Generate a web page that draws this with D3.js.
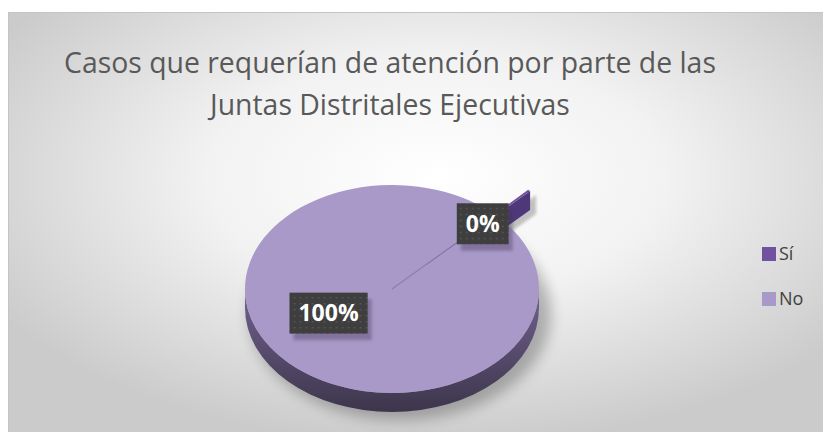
<!DOCTYPE html>
<html>
  <head>
    <meta charset="utf-8" />
    <script src="https://cdn.jsdelivr.net/npm/d3@7"></script>
    <style>
      body { margin: 0; background: #fff; }
      text { font-family: "Open Sans", "DejaVu Sans", sans-serif; }
    </style>
  </head>
  <body>
    <div id="chart"></div>
    <script type="text/javascript">
var width = 823, height = 432;

// data
var categories = ["Sí", "No"];
var values = [0.3, 99.7];
var titleLines = ["Casos que requerían de atención por parte de las", "Juntas Distritales Ejecutivas"];

var color = d3.scaleOrdinal().domain(categories).range(["#7152a1", "#a899c8"]);
var pct = d3.format(".0%");
var total = d3.sum(values);

var svg = d3.select("#chart").append("svg")
  .attr("width", width)
  .attr("height", height);

var defs = svg.append("defs");

var bg = defs.append("radialGradient").attr("id", "bg")
  .attr("cx", "52%").attr("cy", "38%").attr("r", "62%");
bg.append("stop").attr("offset", "0%").attr("stop-color", "#ffffff");
bg.append("stop").attr("offset", "45%").attr("stop-color", "#f2f2f2");
bg.append("stop").attr("offset", "100%").attr("stop-color", "#cbcbcb");

var side = defs.append("linearGradient").attr("id", "side")
  .attr("x1", 0).attr("y1", 0).attr("x2", 0).attr("y2", 1);
side.append("stop").attr("offset", "0%").attr("stop-color", "#716390");
side.append("stop").attr("offset", "100%").attr("stop-color", "#3d354b");

var blur = defs.append("filter").attr("id", "blur")
  .attr("x", "-30%").attr("y", "-30%").attr("width", "160%").attr("height", "160%");
blur.append("feGaussianBlur").attr("stdDeviation", 7);

var blur2 = defs.append("filter").attr("id", "blur2")
  .attr("x", "-30%").attr("y", "-30%").attr("width", "160%").attr("height", "160%");
blur2.append("feGaussianBlur").attr("stdDeviation", 1.5);

var dots = defs.append("pattern").attr("id", "dots")
  .attr("width", 6).attr("height", 6).attr("patternUnits", "userSpaceOnUse");
dots.append("rect").attr("width", 6).attr("height", 6).attr("fill", "#3e3e3e");
dots.append("rect").attr("x", 1).attr("y", 2).attr("width", 2).attr("height", 1.3).attr("fill", "#575757");

// chart area
svg.append("rect")
  .attr("x", 8.5).attr("y", 12.5)
  .attr("width", width).attr("height", height)
  .attr("fill", "url(#bg)")
  .attr("stroke", "#c4c4c4");

// title
var title = svg.append("g");
title.selectAll("text")
  .data(titleLines)
  .enter().append("text")
    .attr("x", 390)
    .attr("y", function(d, i) { return 73 + i * 42; })
    .attr("text-anchor", "middle")
    .attr("fill", "#595959")
    .style("font-size", "28px")
    .text(function(d) { return d; });
var w0 = title.select("text").node().getComputedTextLength();
title.selectAll("text").style("font-size", (28 * 652 / w0) + "px");

// pie geometry
var cx = 392, cy = 289, rx = 147, ry = 104, depth = 19, explode = 0.33;
var x = d3.scaleLinear().domain([-1, 1]).range([cx - rx, cx + rx]);
var y = d3.scaleLinear().domain([-1, 1]).range([cy + ry, cy - ry]);
var startDeg = 44;
var pie = d3.pie().sort(null)
  .startAngle(startDeg * Math.PI / 180)
  .endAngle(startDeg * Math.PI / 180 + 2 * Math.PI);
var arcs = pie(values);

function pt(a, f, d) {
  return [x(f * Math.sin(a)) + d.ox, y(f * Math.cos(a)) + d.oy];
}
arcs.forEach(function(d) {
  var small = (d.endAngle - d.startAngle) < Math.PI;
  var mid = (d.startAngle + d.endAngle) / 2;
  d.mid = mid;
  d.ox = small ? x(explode * Math.sin(mid)) - cx : 0;
  d.oy = small ? y(explode * Math.cos(mid)) - cy : 0;
});

function topPath(d) {
  var c = pt(0, 0, d), p0 = pt(d.startAngle, 1, d), p1 = pt(d.endAngle, 1, d);
  var large = d.endAngle - d.startAngle > Math.PI ? 1 : 0;
  return "M" + c + "L" + p0 + "A" + rx + "," + ry + " 0 " + large + " 1 " + p1 + "Z";
}
function sidePath(d) {
  var out = "";
  [-2, 0, 2].forEach(function(k) {
    var s = Math.max(d.startAngle, Math.PI / 2 + k * Math.PI);
    var e = Math.min(d.endAngle, 3 * Math.PI / 2 + k * Math.PI);
    if (s < e) {
      var t0 = pt(s, 1, d), t1 = pt(e, 1, d);
      out += "M" + t0 + "A" + rx + "," + ry + " 0 0 1 " + t1 +
        "L" + [t1[0], t1[1] + depth] + "A" + rx + "," + ry + " 0 0 0 " + [t0[0], t0[1] + depth] + "Z";
    }
  });
  return out;
}
function endWall(d) {
  var c = pt(0, 0, d), p = pt(d.endAngle, 1, d);
  return "M" + c + "L" + p + "L" + [p[0], p[1] + depth] + "L" + [c[0], c[1] + depth] + "Z";
}

var pieG = svg.append("g");

// soft shadow
pieG.append("ellipse")
  .attr("cx", cx + 8).attr("cy", cy + depth + 6)
  .attr("rx", rx + 4).attr("ry", ry + 2)
  .attr("fill", "#000").attr("opacity", 0.26)
  .attr("filter", "url(#blur)");

var big = arcs.filter(function(d) { return d.endAngle - d.startAngle > Math.PI; });
var small = arcs.filter(function(d) { return d.endAngle - d.startAngle <= Math.PI; });

// exploded slice sits behind the big one
pieG.selectAll(".sshadow").data(small).enter().append("path")
  .attr("class", "sshadow").attr("d", endWall)
  .attr("transform", "translate(6,4)")
  .attr("fill", "#000").attr("opacity", 0.22).attr("filter", "url(#blur2)");
pieG.selectAll(".wall").data(small).enter().append("path")
  .attr("class", "wall").attr("d", endWall).attr("fill", "#4f3879");
pieG.selectAll(".stop").data(small).enter().append("path")
  .attr("class", "stop").attr("d", topPath)
  .attr("fill", function(d) { return color(categories[d.index]); });

pieG.selectAll(".side").data(big).enter().append("path")
  .attr("class", "side").attr("d", sidePath).attr("fill", "url(#side)");
pieG.selectAll(".top").data(big).enter().append("path")
  .attr("class", "top").attr("d", topPath)
  .attr("fill", function(d) { return color(categories[d.index]); });

// seam left by the exploded slice
pieG.selectAll(".seam").data(small).enter().append("line")
  .attr("class", "seam")
  .attr("x1", cx).attr("y1", cy)
  .attr("x2", function(d) { return x(Math.sin(d.mid)); })
  .attr("y2", function(d) { return y(Math.cos(d.mid)); })
  .attr("stroke", "#8d7daf").attr("stroke-width", 1.2);

// data labels
function labelPos(d) {
  if (d.endAngle - d.startAngle > Math.PI) {
    var a = d.mid + 0.3;
    return [x(0.49 * Math.sin(a)), y(0.49 * Math.cos(a))];
  }
  return [x(0.88 * Math.sin(d.mid)), y(0.88 * Math.cos(d.mid))];
}
var labels = svg.selectAll(".lbl").data(arcs).enter().append("g")
  .attr("class", "lbl")
  .attr("transform", function(d) { return "translate(" + labelPos(d) + ")"; });
var shadowR = labels.append("rect").attr("fill", "#3c2f52").attr("opacity", 0.35).attr("filter", "url(#blur2)");
var boxR = labels.append("rect").attr("fill", "url(#dots)");
var lt = labels.append("text")
  .attr("text-anchor", "middle")
  .attr("dy", "0.36em")
  .attr("fill", "#fff")
  .style("font-size", "23px")
  .style("font-weight", "bold")
  .text(function(d) { return pct(d.value / total); });
lt.each(function(d) { d.tw = this.getComputedTextLength(); });
boxR.attr("x", function(d) { return -d.tw / 2 - 9; }).attr("y", -20.5)
  .attr("width", function(d) { return d.tw + 18; }).attr("height", 41);
shadowR.attr("x", function(d) { return -d.tw / 2 - 5; }).attr("y", -14)
  .attr("width", function(d) { return d.tw + 18; }).attr("height", 41);

// legend
var ly = d3.scalePoint().domain(categories).range([254, 299]);
var legend = svg.selectAll(".leg").data(categories).enter().append("g")
  .attr("class", "leg")
  .attr("transform", function(d) { return "translate(762," + ly(d) + ")"; });
legend.append("rect").attr("y", -7).attr("width", 14).attr("height", 14)
  .attr("fill", function(d) { return color(d); });
legend.append("text").attr("x", 17).attr("dy", "0.36em")
  .attr("fill", "#404040").style("font-size", "18px")
  .text(function(d) { return d; });
    </script>
  </body>
</html>
